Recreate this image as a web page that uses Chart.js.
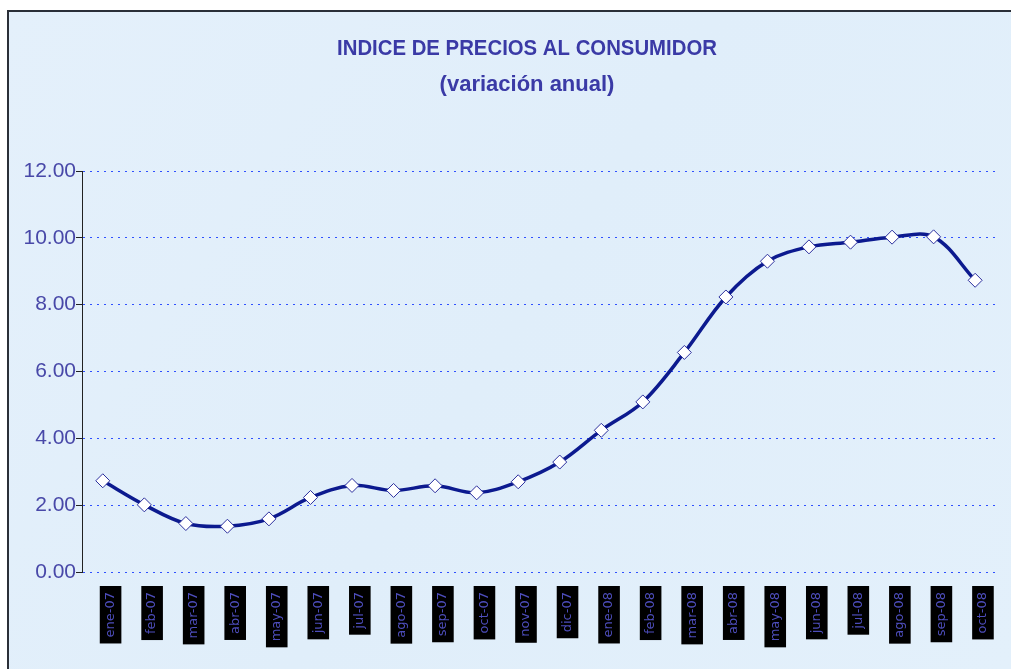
<!DOCTYPE html>
<html>
<head>
<meta charset="utf-8">
<script src="https://cdn.jsdelivr.net/npm/chart.js@4.4.1/dist/chart.umd.min.js"></script>
<style>
  html, body { margin: 0; padding: 0; background: #fff; }
  #wrap { width: 1011px; height: 669px; position: relative; }
</style>
</head>
<body>
<div id="wrap"><canvas id="c"></canvas></div>
<script>
const categories = ['ene-07','feb-07','mar-07','abr-07','may-07','jun-07','jul-07','ago-07','sep-07','oct-07','nov-07','dic-07',
                    'ene-08','feb-08','mar-08','abr-08','may-08','jun-08','jul-08','ago-08','sep-08','oct-08'];
const ipcValues = [2.73, 2.01, 1.45, 1.37, 1.59, 2.23, 2.59, 2.44, 2.58, 2.37, 2.70, 3.29,
                   4.24, 5.09, 6.57, 8.23, 9.30, 9.73, 9.87, 10.02, 10.03, 8.73];
const yTicks = [0, 2, 4, 6, 8, 10, 12];
const titleLines = ['INDICE DE PRECIOS AL CONSUMIDOR', '(variación anual)'];

const framePlugin = {
  id: 'frame',
  beforeDraw(chart) {
    const ctx = chart.ctx;
    const w = chart.width, h = chart.height;
    ctx.save();
    ctx.fillStyle = '#ffffff';
    ctx.fillRect(0, 0, w, h);
    const g = ctx.createLinearGradient(0, 11, w, h);
    g.addColorStop(0, '#e4f0fb');
    g.addColorStop(0.5, '#e0eefa');
    g.addColorStop(1, '#e3f0fb');
    ctx.fillStyle = g;
    ctx.fillRect(8, 11, w - 8, h - 11);
    ctx.strokeStyle = '#2a2f38';
    ctx.lineWidth = 2;
    ctx.beginPath();
    ctx.moveTo(8, h);
    ctx.lineTo(8, 11);
    ctx.lineTo(w, 11);
    ctx.stroke();
    ctx.restore();
  },
  afterDraw(chart) {
    const ctx = chart.ctx;
    ctx.save();
    ctx.fillStyle = '#3a3aa6';
    ctx.font = 'bold 22px "Liberation Sans", Arial, sans-serif';
    ctx.textAlign = 'center';
    ctx.textBaseline = 'alphabetic';
    ctx.save();
    ctx.translate(527, 55);
    ctx.scale(0.925, 1);
    ctx.fillText(titleLines[0], 0, 0);
    ctx.restore();
    ctx.fillText(titleLines[1], 527, 91);
    ctx.restore();
  }
};

new Chart(document.getElementById('c'), {
  type: 'line',
  data: {
    labels: categories,
    datasets: [{
      data: ipcValues,
      borderColor: '#0c1a8f',
      borderWidth: 3.5,
      tension: 0.35,
      fill: false,
      pointStyle: 'rectRot',
      pointRadius: 7,
      pointBackgroundColor: '#ffffff',
      pointBorderColor: '#2b2f9e',
      pointBorderWidth: 1
    }]
  },
  options: {
    responsive: true,
    maintainAspectRatio: false,
    animation: false,
    layout: { padding: { left: 0, right: 11, top: 171, bottom: 0 } },
    plugins: {
      legend: { display: false },
      tooltip: { enabled: false },
      title: { display: false }
    },
    scales: {
      x: {
        type: 'category',
        offset: true,
        grid: { display: false, drawTicks: false },
        border: { display: false },
        afterFit(scale) { scale.height = 97; },
        ticks: {
          autoSkip: false,
          minRotation: 90,
          maxRotation: 90,
          padding: 20,
          color: '#4d4dbb',
          font: { family: '"DejaVu Sans", sans-serif', size: 13 },
          showLabelBackdrop: true,
          backdropColor: '#000000',
          backdropPadding: { left: 6, right: 6, top: 3, bottom: 3 }
        }
      },
      y: {
        min: 0,
        max: 12,
        afterFit(scale) { scale.width = 82; },
        afterBuildTicks(scale) { scale.ticks = yTicks.map(v => ({ value: v })); },
        grid: {
          color: '#2f50ff',
          lineWidth: 1,
          tickBorderDash: [],
          tickColor: '#222',
          tickLength: 6,
          tickWidth: 1
        },
        border: { display: true, color: '#222', width: 1, dash: [2, 5] },
        ticks: {
          padding: 0,
          color: '#4848a8',
          font: { family: '"Liberation Sans", Arial, sans-serif', size: 21 },
          callback: (v) => Number(v).toFixed(2)
        }
      }
    }
  },
  plugins: [framePlugin]
});
</script>
</body>
</html>
